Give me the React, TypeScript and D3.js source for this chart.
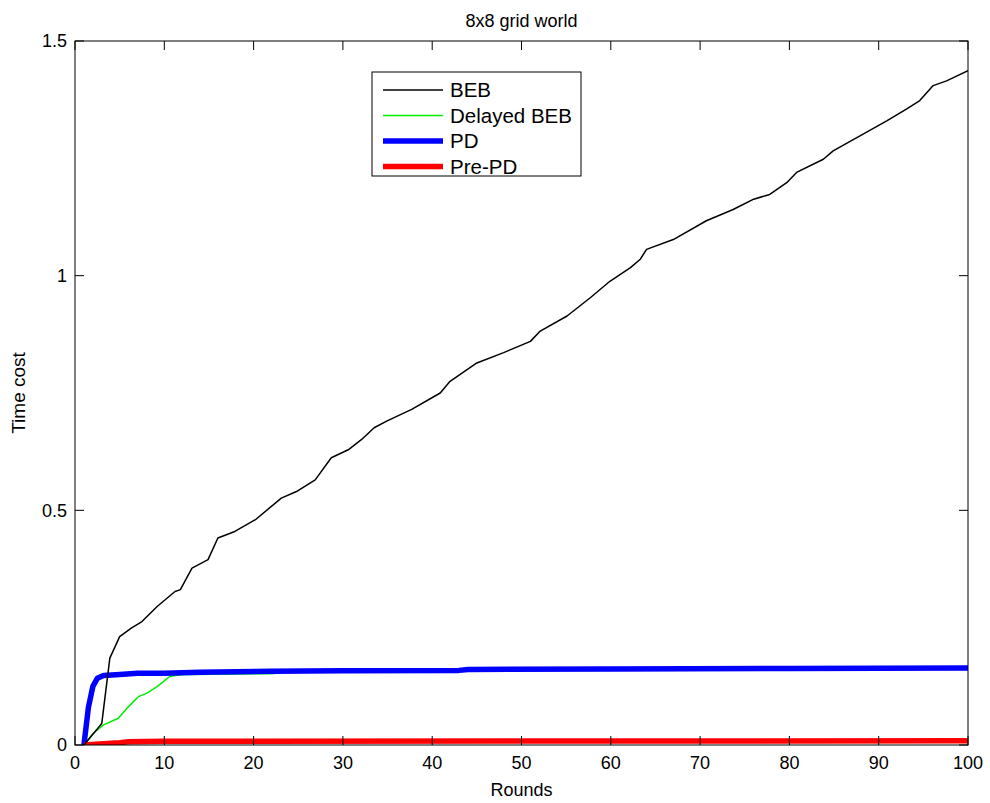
import * as d3 from 'd3';

const W = 990;
const H = 803;
const margin = { top: 41, right: 22, bottom: 58, left: 75 };

const xTicks = [0, 10, 20, 30, 40, 50, 60, 70, 80, 90, 100];
const yTicks = [0, 0.5, 1, 1.5];

// BEB
const bebRounds = [1, 3, 3.9, 5, 6.3, 7.5, 9.2, 11.2, 11.8, 13.1, 14.9, 16, 17.9, 20.2, 23.1, 24.8, 26.9, 28.7, 30.6, 32.1, 33.5, 34.9, 37.7, 40.9, 42, 45, 48, 51, 52.1, 55.1, 57.7, 59.9, 62.2, 63.3, 64, 67, 70.7, 73.7, 76, 77.8, 79.7, 80.8, 83.8, 84.9, 87.9, 90.9, 93.1, 94.6, 96.1, 97.6, 100];
const bebValues = [0, 0.046, 0.185, 0.231, 0.249, 0.263, 0.295, 0.327, 0.331, 0.377, 0.395, 0.441, 0.455, 0.48, 0.526, 0.54, 0.565, 0.612, 0.629, 0.651, 0.676, 0.69, 0.715, 0.75, 0.775, 0.814, 0.836, 0.86, 0.882, 0.914, 0.953, 0.988, 1.017, 1.035, 1.056, 1.077, 1.117, 1.141, 1.163, 1.173, 1.198, 1.22, 1.248, 1.266, 1.298, 1.33, 1.355, 1.373, 1.405, 1.415, 1.437];

// Delayed BEB
const delayedRounds = [1, 2.05, 3.2, 4.85, 5.8, 7.1, 8, 9.15, 9.9, 10.6, 12, 16, 22, 24, 40, 43, 100];
const delayedValues = [0, 0.025, 0.043, 0.057, 0.078, 0.103, 0.11, 0.124, 0.135, 0.146, 0.15, 0.151, 0.152, 0.156, 0.158, 0.16, 0.163];

// PD
const pdRounds = [1, 1.5, 2, 2.5, 3.2, 5, 7, 10, 14, 22, 30, 43, 44, 60, 80, 100];
const pdValues = [0, 0.08, 0.125, 0.142, 0.148, 0.15, 0.153, 0.153, 0.155, 0.157, 0.158, 0.159, 0.161, 0.162, 0.163, 0.164];

// Pre-PD
const prepdRounds = [1, 5, 6, 10, 100];
const prepdValues = [0, 0.005, 0.007, 0.008, 0.009];

const series = [
  { name: 'Delayed BEB', rounds: delayedRounds, values: delayedValues, color: '#00ee00', width: 1.5 },
  { name: 'PD', rounds: pdRounds, values: pdValues, color: '#0000ff', width: 5.5 },
  { name: 'Pre-PD', rounds: prepdRounds, values: prepdValues, color: '#ff0000', width: 5.5 },
  { name: 'BEB', rounds: bebRounds, values: bebValues, color: '#000000', width: 1.5 },
];
const legendOrder = ['BEB', 'Delayed BEB', 'PD', 'Pre-PD'];

export default function App() {
  const iw = W - margin.left - margin.right;
  const ih = H - margin.top - margin.bottom;
  const x = d3.scaleLinear().domain([0, 100]).range([0, iw]);
  const y = d3.scaleLinear().domain([0, 1.5]).range([ih, 0]);
  const line = d3.line<[number, number]>().x(d => x(d[0])).y(d => y(d[1]));
  const font = "'Liberation Sans', Arial, Helvetica, sans-serif";
  const tick = 9;

  return (
    <svg width={W} height={H} style={{ position: 'absolute', left: 0, top: 0, background: '#fff' }} fontFamily={font}>
      <text x={margin.left + iw / 2} y={27} textAnchor="middle" fontSize={18}>8x8 grid world</text>
      <g transform={`translate(${margin.left},${margin.top})`}>
        <defs>
          <clipPath id="plot"><rect x={0} y={0} width={iw} height={ih} /></clipPath>
        </defs>
        <g clipPath="url(#plot)">
          {series.map(s => (
            <path key={s.name} d={line(s.rounds.map((r, i) => [r, s.values[i]] as [number, number])) || ''}
              fill="none" stroke={s.color} strokeWidth={s.width} strokeLinejoin="round" />
          ))}
        </g>
        <rect x={0} y={0} width={iw} height={ih} fill="none" stroke="#000" strokeWidth={1} />
        {xTicks.map(t => (
          <g key={'x' + t}>
            <line x1={x(t)} x2={x(t)} y1={ih} y2={ih - tick} stroke="#000" />
            <line x1={x(t)} x2={x(t)} y1={0} y2={tick} stroke="#000" />
            <text x={x(t)} y={ih + 24} textAnchor="middle" fontSize={18}>{t}</text>
          </g>
        ))}
        {yTicks.map(t => (
          <g key={'y' + t}>
            <line x1={0} x2={tick} y1={y(t)} y2={y(t)} stroke="#000" />
            <line x1={iw} x2={iw - tick} y1={y(t)} y2={y(t)} stroke="#000" />
            <text x={-8} y={y(t)} dy="0.35em" textAnchor="end" fontSize={18}>{t}</text>
          </g>
        ))}
        <text x={iw / 2} y={ih + 51} textAnchor="middle" fontSize={18}>Rounds</text>
        <text transform={`translate(${-50},${ih / 2}) rotate(-90)`} textAnchor="middle" fontSize={19}>Time cost</text>
        <g transform={`translate(${372 - margin.left},${72 - margin.top})`}>
          <rect x={0} y={0} width={209} height={104} fill="#fff" stroke="#000" />
          {legendOrder.map((n, i) => {
            const s = series.find(d => d.name === n)!;
            const cy = 18 + i * 25.5;
            return (
              <g key={n}>
                <line x1={11} x2={71} y1={cy} y2={cy} stroke={s.color} strokeWidth={s.width} />
                <text x={78} y={cy} dy="0.35em" fontSize={20.5}>{n}</text>
              </g>
            );
          })}
        </g>
      </g>
    </svg>
  );
}
